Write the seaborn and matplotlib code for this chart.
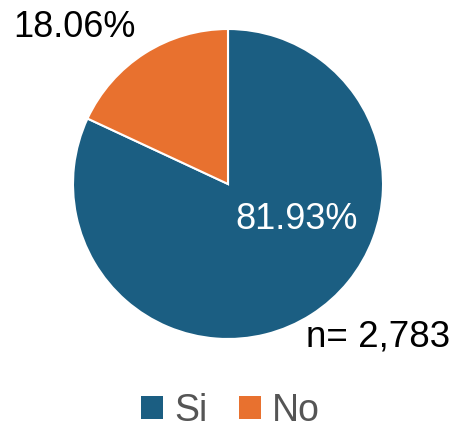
import matplotlib
matplotlib.use("Agg")
import matplotlib.pyplot as plt
import seaborn as sns
from matplotlib.patches import Patch

categories = ["Si", "No"]
values = [81.93, 18.06]
pct_labels = ["81.93%", "18.06%"]
n_label = "n= 2,783"
colors = ["#1b5e82", "#e8712f"]

sns.set_theme(style="white")
plt.rcParams['font.family'] = ['Liberation Sans', 'DejaVu Sans']

fig = plt.figure(figsize=(4.61, 4.29), dpi=100)
R = 155
cx, cy = 228, 184
ax = fig.add_axes([(cx - R) / 461, (429 - cy - R) / 429, 2 * R / 461, 2 * R / 429])
wedges, _ = ax.pie(values, colors=colors, startangle=90, counterclock=False,
                   wedgeprops=dict(edgecolor="white", linewidth=1.5))
ax.set_xlim(-1, 1)
ax.set_ylim(-1, 1)
ax.set_aspect("equal")
ax.axis("off")

ax.text(0.44, -0.23, pct_labels[0], color="white", fontsize=26, ha="center", va="center")
ax.text(-0.99, 1.01, pct_labels[1], color="black", fontsize=26, ha="center", va="center", clip_on=False)
ax.text(0.97, -0.99, n_label, color="black", fontsize=26.5, ha="center", va="center", clip_on=False)

handles = [Patch(facecolor=c, edgecolor="none") for c in colors]
leg = fig.legend(handles, categories, loc="center", bbox_to_anchor=(0.5, (429 - 411) / 429),
                 ncol=2, frameon=False, fontsize=27, handlelength=0.58, handleheight=0.58,
                 handletextpad=0.3, columnspacing=0.85, borderpad=0)
for t in leg.get_texts():
    t.set_color("#555555")

fig.savefig("out.png", dpi=100)
